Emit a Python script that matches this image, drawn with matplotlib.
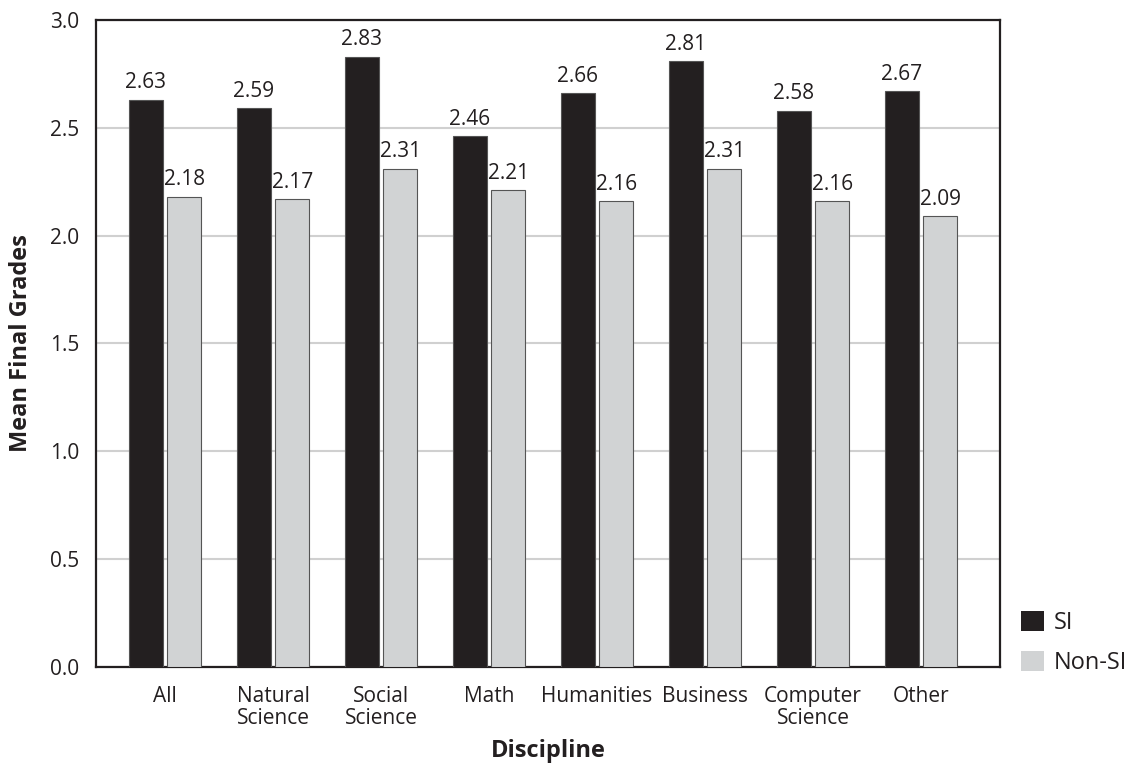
import numpy as np
import matplotlib.pyplot as plt

plt.rcParams['font.family'] = ['Open Sans', 'DejaVu Sans']

disciplines = ['All', 'Natural\nScience', 'Social\nScience', 'Math', 'Humanities',
               'Business', 'Computer\nScience', 'Other']
si_grades = [2.63, 2.59, 2.83, 2.46, 2.66, 2.81, 2.58, 2.67]
non_si_grades = [2.18, 2.17, 2.31, 2.21, 2.16, 2.31, 2.16, 2.09]

fig = plt.figure(figsize=(11.34, 7.7), dpi=100)
ax = fig.add_axes([0.0847, 0.1338, 0.797, 0.8402])

x = np.arange(len(disciplines))
w = 0.315
off = 0.178
b1 = ax.bar(x - off, si_grades, w, color='#231f20', edgecolor='#555555', linewidth=0.8,
            label='SI', zorder=3)
b2 = ax.bar(x + off, non_si_grades, w, color='#d1d3d4', edgecolor='#555555', linewidth=0.8,
            label='Non-SI', zorder=3)

for bars, vals in ((b1, si_grades), (b2, non_si_grades)):
    for r, v in zip(bars, vals):
        ax.text(r.get_x() + r.get_width() / 2, v + 0.03, f'{v:.2f}', ha='center', va='bottom',
                fontsize=15, color='#231f20')

ax.set_xlim(-0.64, 7.73)
ax.set_ylim(0, 3.0)
ax.set_yticks(np.arange(0, 3.01, 0.5))
ax.set_yticklabels([f'{t:.1f}' for t in np.arange(0, 3.01, 0.5)])
ax.set_xticks(x)
ax.set_xticklabels(disciplines, linespacing=1.05)
ax.tick_params(length=0, labelsize=15, colors='#231f20')
ax.tick_params(axis='x', pad=14)
ax.tick_params(axis='y', pad=12)
ax.yaxis.grid(True, color='#d0d0d0', linewidth=1.5, zorder=0)
ax.set_axisbelow(True)
for s in ax.spines.values():
    s.set_linewidth(1.6)
    s.set_color('#231f20')

ax.set_ylabel('Mean Final Grades', fontsize=17, fontweight='bold', color='#231f20', labelpad=12)
ax.set_xlabel('Discipline', fontsize=17, fontweight='bold', color='#231f20')
ax.xaxis.set_label_coords(0.5, -0.112)

leg = ax.legend(loc='lower left', bbox_to_anchor=(1.0, -0.045), frameon=False, fontsize=17,
                handlelength=0.95, handleheight=0.95, handletextpad=0.45, labelspacing=0.65,
                labelcolor='#231f20')
for h in leg.legend_handles:
    h.set_edgecolor('none')

fig.savefig('out.png', dpi=100)
